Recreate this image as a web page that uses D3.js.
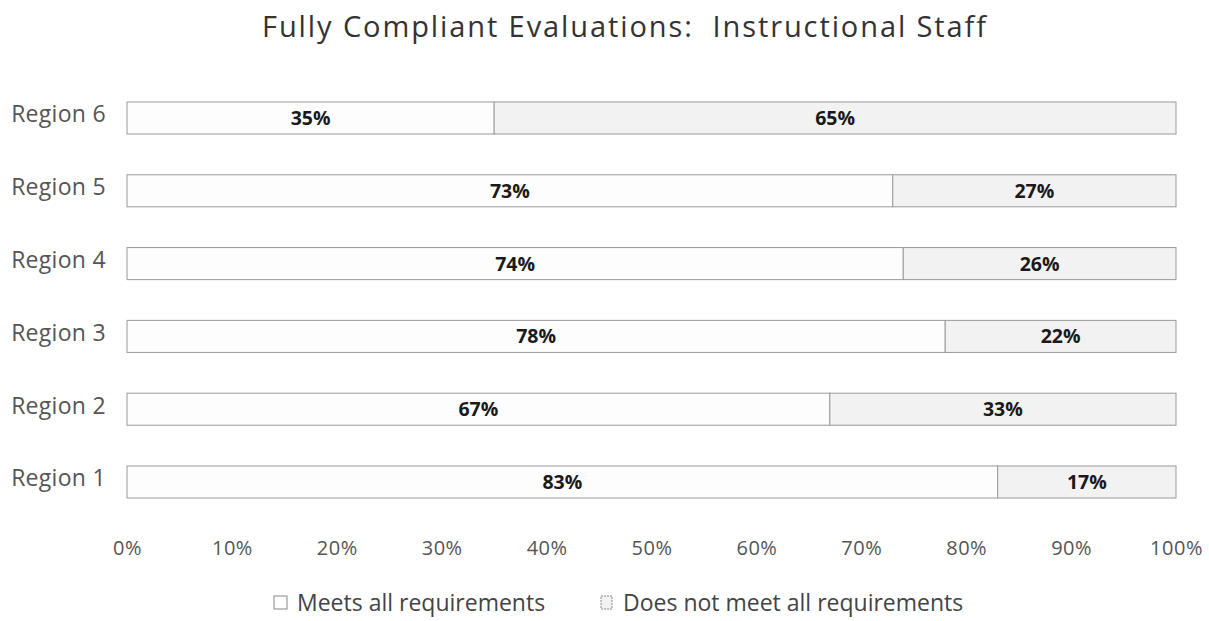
<!DOCTYPE html>
<html><head><meta charset="utf-8">
<script src="https://cdn.jsdelivr.net/npm/d3@7"></script>
<style>body{margin:0;background:#fff}svg{display:block}</style>
</head><body>
<svg id="c" width="1209" height="621"></svg>
<script>
const categories = ["Region 6","Region 5","Region 4","Region 3","Region 2","Region 1"];
const meets = [35,73,74,78,67,83];
const notMeets = [65,27,26,22,33,17];
const ticks = [0,10,20,30,40,50,60,70,80,90,100];
const seriesNames = ["Meets all requirements","Does not meet all requirements"];
const colors = ["#fdfdfd","#f2f2f2"];

const svg = d3.select("#c");
const font = "'Open Sans', 'Noto Sans', sans-serif";
const x = d3.scaleLinear().domain([0,100]).range([127,1176]);
const y = d3.scaleBand().domain(categories).range([81.6,518.4]).paddingInner(0.56).paddingOuter(0.28);

svg.append("text").attr("x",625).attr("y",37).attr("text-anchor","middle")
  .attr("font-family",font).attr("font-size",29).attr("letter-spacing",1.9).attr("fill","#333")
  .text("Fully Compliant Evaluations:  Instructional Staff").style("white-space","pre");

const g = svg.append("g");
categories.forEach((c,i)=>{
  const vals=[meets[i],notMeets[i]];
  let acc=0;
  vals.forEach((v,j)=>{
    const x0=x(acc), x1=x(acc+v);
    g.append("rect").attr("x",x0).attr("y",y(c)).attr("width",x1-x0).attr("height",y.bandwidth())
      .attr("fill",colors[j]).attr("stroke","#9a9a9a").attr("stroke-width",1);
    g.append("text").attr("x",(x0+x1)/2).attr("y",y(c)+y.bandwidth()/2+7)
      .attr("text-anchor","middle").attr("font-family",font).attr("font-weight","bold")
      .attr("font-size",19.5).attr("fill","#1a1a1a").text(v+"%");
    acc+=v;
  });
});

const yAxis = svg.append("g").attr("transform","translate(106,-3)")
  .call(d3.axisLeft(y).tickSize(0).tickPadding(0));
yAxis.select(".domain").remove();
yAxis.selectAll("text").attr("font-family",font).attr("font-size",23).attr("letter-spacing",0.3).attr("fill","#555");

const xAxis = svg.append("g").attr("transform","translate(0,541)")
  .call(d3.axisBottom(x).tickValues(ticks).tickFormat(d=>d+"%").tickSize(0).tickPadding(0));
xAxis.select(".domain").remove();
xAxis.selectAll("text").attr("font-family",font).attr("font-size",20).attr("letter-spacing",0.5).attr("fill","#555");

const leg = svg.append("g");
const legX=[274,601];
seriesNames.forEach((n,j)=>{
  leg.append("rect").attr("x",legX[j]).attr("y",596).attr("width",j?11:13).attr("height",13)
    .attr("fill",colors[j]).attr("stroke","#888").attr("stroke-dasharray", j?"2,1":null);
  leg.append("text").attr("x",legX[j]+(j?22:23)).attr("y",611).attr("font-family",font)
    .attr("font-size",23).attr("fill","#444").text(n);
});
</script>
</body></html>
